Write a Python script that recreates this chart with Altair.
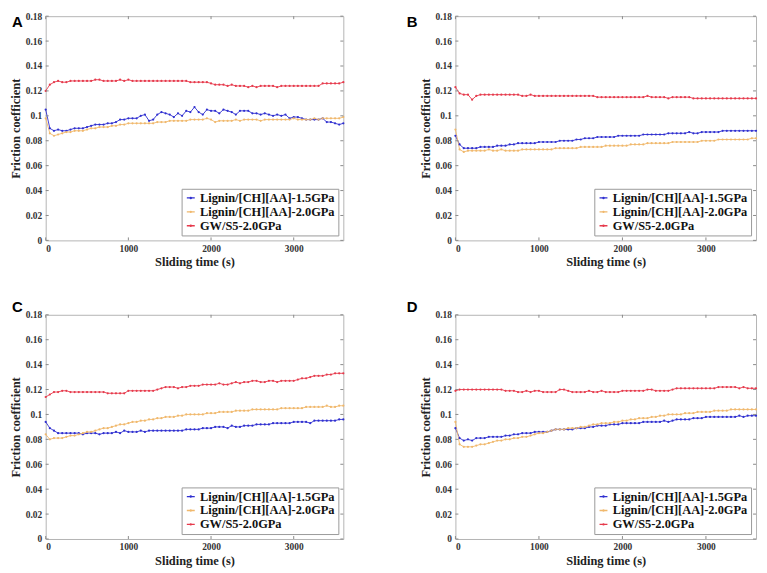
import altair as alt
import pandas as pd

# ---------------- data ----------------
time_s = list(range(0, 3601, 50))  # sampling times (s)

series_names = ["Lignin/[CH][AA]-1.5GPa", "Lignin/[CH][AA]-2.0GPa", "GW/S5-2.0GPa"]
series_colors = ["#2f2fd0", "#f0b86c", "#e63a4c"]

x_ticks = [0, 1000, 2000, 3000]
y_ticks = [0, 0.02, 0.04, 0.06, 0.08, 0.1, 0.12, 0.14, 0.16, 0.18]

# Panel A
A_blue = [0.105, 0.090, 0.088, 0.089, 0.088, 0.088, 0.089, 0.090, 0.090, 0.090,
          0.091, 0.092, 0.093, 0.093, 0.093, 0.094, 0.094, 0.095, 0.097, 0.097,
          0.098, 0.098, 0.098, 0.100, 0.101, 0.096, 0.097, 0.101, 0.103, 0.102,
          0.101, 0.099, 0.102, 0.100, 0.104, 0.103, 0.107, 0.103, 0.101, 0.105,
          0.104, 0.104, 0.102, 0.105, 0.104, 0.103, 0.101, 0.104, 0.104, 0.104,
          0.102, 0.102, 0.101, 0.102, 0.101, 0.100, 0.101, 0.100, 0.101, 0.098,
          0.099, 0.099, 0.098, 0.097, 0.097, 0.097, 0.097, 0.098, 0.095, 0.095,
          0.094, 0.093, 0.094]
A_orange = [0.098, 0.086, 0.084, 0.085, 0.086, 0.087, 0.087, 0.088, 0.088, 0.088,
            0.089, 0.090, 0.090, 0.091, 0.091, 0.091, 0.092, 0.092, 0.093, 0.093,
            0.094, 0.094, 0.094, 0.094, 0.094, 0.094, 0.094, 0.095, 0.095, 0.095,
            0.096, 0.096, 0.096, 0.096, 0.096, 0.097, 0.097, 0.097, 0.097, 0.098,
            0.097, 0.095, 0.096, 0.096, 0.096, 0.096, 0.097, 0.096, 0.097, 0.097,
            0.097, 0.097, 0.096, 0.097, 0.097, 0.097, 0.097, 0.097, 0.097, 0.097,
            0.098, 0.097, 0.097, 0.097, 0.097, 0.098, 0.097, 0.098, 0.098, 0.098,
            0.098, 0.098, 0.099]
A_red = [0.120, 0.125, 0.127, 0.128, 0.127, 0.127, 0.128, 0.128, 0.128, 0.128,
         0.128, 0.128, 0.129, 0.129, 0.128, 0.128, 0.128, 0.128, 0.129, 0.128,
         0.129, 0.128, 0.128, 0.128, 0.128, 0.128, 0.128, 0.128, 0.128, 0.128,
         0.128, 0.128, 0.128, 0.128, 0.128, 0.127, 0.127, 0.127, 0.127, 0.127,
         0.126, 0.125, 0.125, 0.125, 0.124, 0.125, 0.124, 0.124, 0.124, 0.123,
         0.124, 0.123, 0.124, 0.124, 0.124, 0.124, 0.123, 0.124, 0.124, 0.124,
         0.124, 0.124, 0.124, 0.124, 0.124, 0.124, 0.124, 0.126, 0.126, 0.126,
         0.126, 0.126, 0.127]

# Panel B
B_blue = [0.084, 0.077, 0.074, 0.074, 0.074, 0.074, 0.075, 0.075, 0.075, 0.075,
          0.076, 0.076, 0.076, 0.077, 0.077, 0.078, 0.078, 0.078, 0.078, 0.078,
          0.079, 0.079, 0.079, 0.079, 0.079, 0.080, 0.080, 0.080, 0.080, 0.081,
          0.081, 0.082, 0.082, 0.082, 0.083, 0.083, 0.083, 0.083, 0.083, 0.084,
          0.084, 0.084, 0.084, 0.084, 0.084, 0.085, 0.085, 0.085, 0.085, 0.085,
          0.085, 0.086, 0.086, 0.086, 0.086, 0.086, 0.087, 0.086, 0.086, 0.087,
          0.087, 0.087, 0.087, 0.087, 0.088, 0.088, 0.088, 0.088, 0.088, 0.088,
          0.088, 0.088, 0.088]
B_orange = [0.089, 0.073, 0.071, 0.072, 0.072, 0.072, 0.072, 0.072, 0.073, 0.072,
            0.072, 0.073, 0.072, 0.072, 0.072, 0.072, 0.073, 0.073, 0.073, 0.073,
            0.073, 0.073, 0.073, 0.073, 0.074, 0.074, 0.074, 0.074, 0.074, 0.074,
            0.075, 0.075, 0.075, 0.075, 0.075, 0.075, 0.076, 0.076, 0.076, 0.076,
            0.076, 0.076, 0.077, 0.077, 0.077, 0.077, 0.078, 0.078, 0.078, 0.078,
            0.078, 0.078, 0.079, 0.079, 0.079, 0.079, 0.079, 0.079, 0.079, 0.080,
            0.080, 0.080, 0.080, 0.081, 0.081, 0.081, 0.081, 0.081, 0.081, 0.081,
            0.081, 0.082, 0.082]
B_red = [0.123, 0.118, 0.117, 0.117, 0.113, 0.116, 0.117, 0.117, 0.117, 0.117,
         0.117, 0.117, 0.117, 0.117, 0.117, 0.117, 0.116, 0.116, 0.117, 0.116,
         0.116, 0.116, 0.116, 0.116, 0.116, 0.116, 0.116, 0.116, 0.116, 0.116,
         0.116, 0.116, 0.116, 0.116, 0.115, 0.115, 0.115, 0.115, 0.115, 0.115,
         0.115, 0.115, 0.115, 0.115, 0.115, 0.115, 0.116, 0.115, 0.115, 0.115,
         0.115, 0.114, 0.115, 0.115, 0.115, 0.115, 0.115, 0.114, 0.114, 0.114,
         0.114, 0.114, 0.114, 0.114, 0.114, 0.114, 0.114, 0.114, 0.114, 0.114,
         0.114, 0.114, 0.114]

# Panel C
C_blue = [0.094, 0.089, 0.087, 0.085, 0.085, 0.085, 0.085, 0.085, 0.085, 0.084,
          0.085, 0.085, 0.085, 0.084, 0.085, 0.085, 0.085, 0.086, 0.085, 0.087,
          0.086, 0.086, 0.086, 0.087, 0.086, 0.087, 0.087, 0.087, 0.087, 0.087,
          0.087, 0.087, 0.087, 0.087, 0.088, 0.088, 0.088, 0.088, 0.089, 0.089,
          0.089, 0.090, 0.090, 0.090, 0.089, 0.091, 0.090, 0.090, 0.091, 0.091,
          0.091, 0.092, 0.092, 0.092, 0.092, 0.093, 0.093, 0.093, 0.093, 0.093,
          0.094, 0.094, 0.094, 0.094, 0.093, 0.095, 0.095, 0.095, 0.095, 0.095,
          0.095, 0.096, 0.096]
C_orange = [0.084, 0.080, 0.081, 0.081, 0.081, 0.082, 0.083, 0.083, 0.084, 0.085,
            0.086, 0.086, 0.087, 0.088, 0.089, 0.089, 0.090, 0.091, 0.092, 0.092,
            0.093, 0.094, 0.094, 0.095, 0.095, 0.096, 0.096, 0.097, 0.097, 0.098,
            0.098, 0.098, 0.099, 0.099, 0.100, 0.100, 0.100, 0.100, 0.100, 0.101,
            0.101, 0.101, 0.102, 0.102, 0.102, 0.102, 0.103, 0.103, 0.103, 0.103,
            0.104, 0.104, 0.104, 0.104, 0.104, 0.104, 0.104, 0.105, 0.105, 0.105,
            0.105, 0.105, 0.105, 0.106, 0.106, 0.106, 0.106, 0.106, 0.107, 0.106,
            0.106, 0.107, 0.107]
C_red = [0.114, 0.116, 0.118, 0.118, 0.119, 0.119, 0.118, 0.118, 0.118, 0.118,
         0.118, 0.118, 0.118, 0.118, 0.118, 0.117, 0.117, 0.117, 0.117, 0.117,
         0.119, 0.119, 0.119, 0.119, 0.119, 0.119, 0.119, 0.120, 0.121, 0.122,
         0.122, 0.122, 0.121, 0.122, 0.122, 0.123, 0.123, 0.123, 0.124, 0.124,
         0.124, 0.124, 0.125, 0.124, 0.124, 0.125, 0.126, 0.125, 0.126, 0.126,
         0.127, 0.127, 0.126, 0.126, 0.127, 0.127, 0.126, 0.127, 0.127, 0.127,
         0.127, 0.128, 0.129, 0.129, 0.130, 0.131, 0.131, 0.131, 0.132, 0.132,
         0.133, 0.133, 0.133]

# Panel D
D_blue = [0.089, 0.081, 0.079, 0.080, 0.079, 0.081, 0.081, 0.081, 0.082, 0.082,
          0.082, 0.082, 0.083, 0.083, 0.084, 0.084, 0.085, 0.085, 0.085, 0.086,
          0.086, 0.086, 0.086, 0.087, 0.088, 0.088, 0.088, 0.088, 0.088, 0.089,
          0.089, 0.089, 0.090, 0.090, 0.091, 0.091, 0.091, 0.092, 0.092, 0.092,
          0.093, 0.093, 0.093, 0.093, 0.093, 0.094, 0.094, 0.094, 0.094, 0.094,
          0.095, 0.094, 0.095, 0.096, 0.096, 0.096, 0.096, 0.097, 0.097, 0.097,
          0.098, 0.098, 0.098, 0.098, 0.098, 0.098, 0.098, 0.098, 0.099, 0.098,
          0.099, 0.099, 0.099]
D_orange = [0.094, 0.076, 0.074, 0.074, 0.074, 0.075, 0.076, 0.076, 0.077, 0.078,
            0.079, 0.079, 0.080, 0.080, 0.081, 0.081, 0.082, 0.082, 0.083, 0.084,
            0.085, 0.085, 0.086, 0.087, 0.088, 0.088, 0.088, 0.089, 0.089, 0.089,
            0.090, 0.090, 0.091, 0.092, 0.092, 0.093, 0.093, 0.093, 0.094, 0.094,
            0.095, 0.095, 0.096, 0.096, 0.097, 0.097, 0.097, 0.098, 0.098, 0.099,
            0.099, 0.100, 0.100, 0.100, 0.100, 0.101, 0.101, 0.101, 0.102, 0.102,
            0.102, 0.102, 0.103, 0.103, 0.103, 0.103, 0.104, 0.104, 0.104, 0.104,
            0.104, 0.104, 0.104]
D_red = [0.119, 0.120, 0.120, 0.120, 0.120, 0.120, 0.120, 0.120, 0.120, 0.120,
         0.120, 0.120, 0.119, 0.119, 0.119, 0.118, 0.118, 0.119, 0.118, 0.119,
         0.119, 0.118, 0.118, 0.118, 0.118, 0.120, 0.120, 0.119, 0.118, 0.118,
         0.118, 0.118, 0.119, 0.118, 0.118, 0.119, 0.118, 0.118, 0.118, 0.118,
         0.119, 0.119, 0.119, 0.119, 0.119, 0.119, 0.120, 0.120, 0.119, 0.119,
         0.119, 0.119, 0.120, 0.121, 0.121, 0.121, 0.121, 0.121, 0.121, 0.121,
         0.121, 0.121, 0.121, 0.122, 0.122, 0.122, 0.122, 0.122, 0.121, 0.122,
         0.121, 0.121, 0.121]

# ---------------- styling ----------------
SERIF = "Liberation Serif"
SANS = "Liberation Sans"
FRAME = "#b4b4b4"
LEGEND_SYMBOL = "M-1,0L1,0M-0.15,0A0.15,0.15,0,1,1,0.15,0A0.15,0.15,0,1,1,-0.15,0"

x_scale = alt.Scale(domain=[0, 3600], nice=False, zero=False)
y_scale = alt.Scale(domain=[0, 0.18], nice=False)


def x_axis():
    return alt.Axis(values=x_ticks, title="Sliding time (s)", ticks=False,
                    domain=False, grid=False, labelPadding=3, titlePadding=3,
                    format="d", labelOverlap=False)


def y_axis():
    return alt.Axis(values=y_ticks, title="Friction coefficient", ticks=False,
                    domain=False, grid=False, labelPadding=4, titlePadding=3,
                    format="~g", labelOverlap=False, labelFlush=False)


def panel(letter, blue, orange, red, w, h, letter_dx, letter_dy):
    rows = []
    for name, vals in zip(series_names, [blue, orange, red]):
        for t, v in zip(time_s, vals):
            rows.append({"t": t, "v": v, "series": name})
    df = pd.DataFrame(rows)

    lines = alt.Chart(df).mark_line(
        strokeWidth=0.9,
        point=alt.OverlayMarkDef(filled=True, size=5, opacity=1),
    ).encode(
        x=alt.X("t:Q", scale=x_scale, axis=x_axis()),
        y=alt.Y("v:Q", scale=y_scale, axis=y_axis()),
        color=alt.Color("series:N",
                        scale=alt.Scale(domain=series_names, range=series_colors),
                        sort=series_names,
                        legend=alt.Legend(title=None, orient="bottom-right")),
    )

    xt = pd.DataFrame({"t": x_ticks})
    yt = pd.DataFrame({"v": y_ticks})
    tick_color = "#8a8a8a"
    xb = alt.Chart(xt).mark_rule(color=tick_color, strokeWidth=1).encode(
        x=alt.X("t:Q", scale=x_scale, axis=x_axis()), y=alt.value(h), y2=alt.value(h - 3))
    xtp = alt.Chart(xt).mark_rule(color=tick_color, strokeWidth=1).encode(
        x=alt.X("t:Q", scale=x_scale, axis=x_axis()), y=alt.value(0), y2=alt.value(3))
    yl = alt.Chart(yt).mark_rule(color=tick_color, strokeWidth=1).encode(
        y=alt.Y("v:Q", scale=y_scale, axis=y_axis()), x=alt.value(0), x2=alt.value(3))
    yr = alt.Chart(yt).mark_rule(color=tick_color, strokeWidth=1).encode(
        y=alt.Y("v:Q", scale=y_scale, axis=y_axis()), x=alt.value(w - 3), x2=alt.value(w))

    lab = alt.Chart(pd.DataFrame({"l": [letter]})).mark_text(
        font=SANS, fontWeight="bold", fontSize=15, align="left", baseline="top",
        color="black",
    ).encode(text="l:N", x=alt.value(letter_dx), y=alt.value(letter_dy))

    return alt.layer(lines, xb, xtp, yl, yr, lab).properties(width=w, height=h)


pA = panel("A", A_blue, A_orange, A_red, 300, 226, -34, -1)
pB = panel("B", B_blue, B_orange, B_red, 303, 226, -49, -1)
pC = panel("C", C_blue, C_orange, C_red, 300, 226, -34, -15)
pD = panel("D", D_blue, D_orange, D_red, 303, 226, -49, -15)

chart = alt.concat(pA, pB, pC, pD, columns=2, spacing={"row": 30, "column": 60}).resolve_scale(
    color="independent"
).resolve_legend(color="independent").properties(
    padding=0
).configure_view(
    stroke=FRAME, strokeWidth=1
).configure_axis(
    labelFont=SERIF, labelFontWeight="bold", labelFontSize=9.5, labelColor="#333333",
    titleFont=SERIF, titleFontWeight="bold", titleFontSize=12.5, titleColor="#222222",
).configure_legend(
    labelFont=SERIF, labelFontWeight="bold", labelFontSize=12.5, labelColor="#111111",
    labelLimit=0, strokeColor="#9a9a9a", fillColor="white", padding=3, offset=5,
    rowPadding=1, symbolType=LEGEND_SYMBOL, symbolSize=64, symbolStrokeWidth=1.3,
    labelOffset=3,
)

chart.save("out.html", embed_options={"renderer": "svg", "actions": False})
